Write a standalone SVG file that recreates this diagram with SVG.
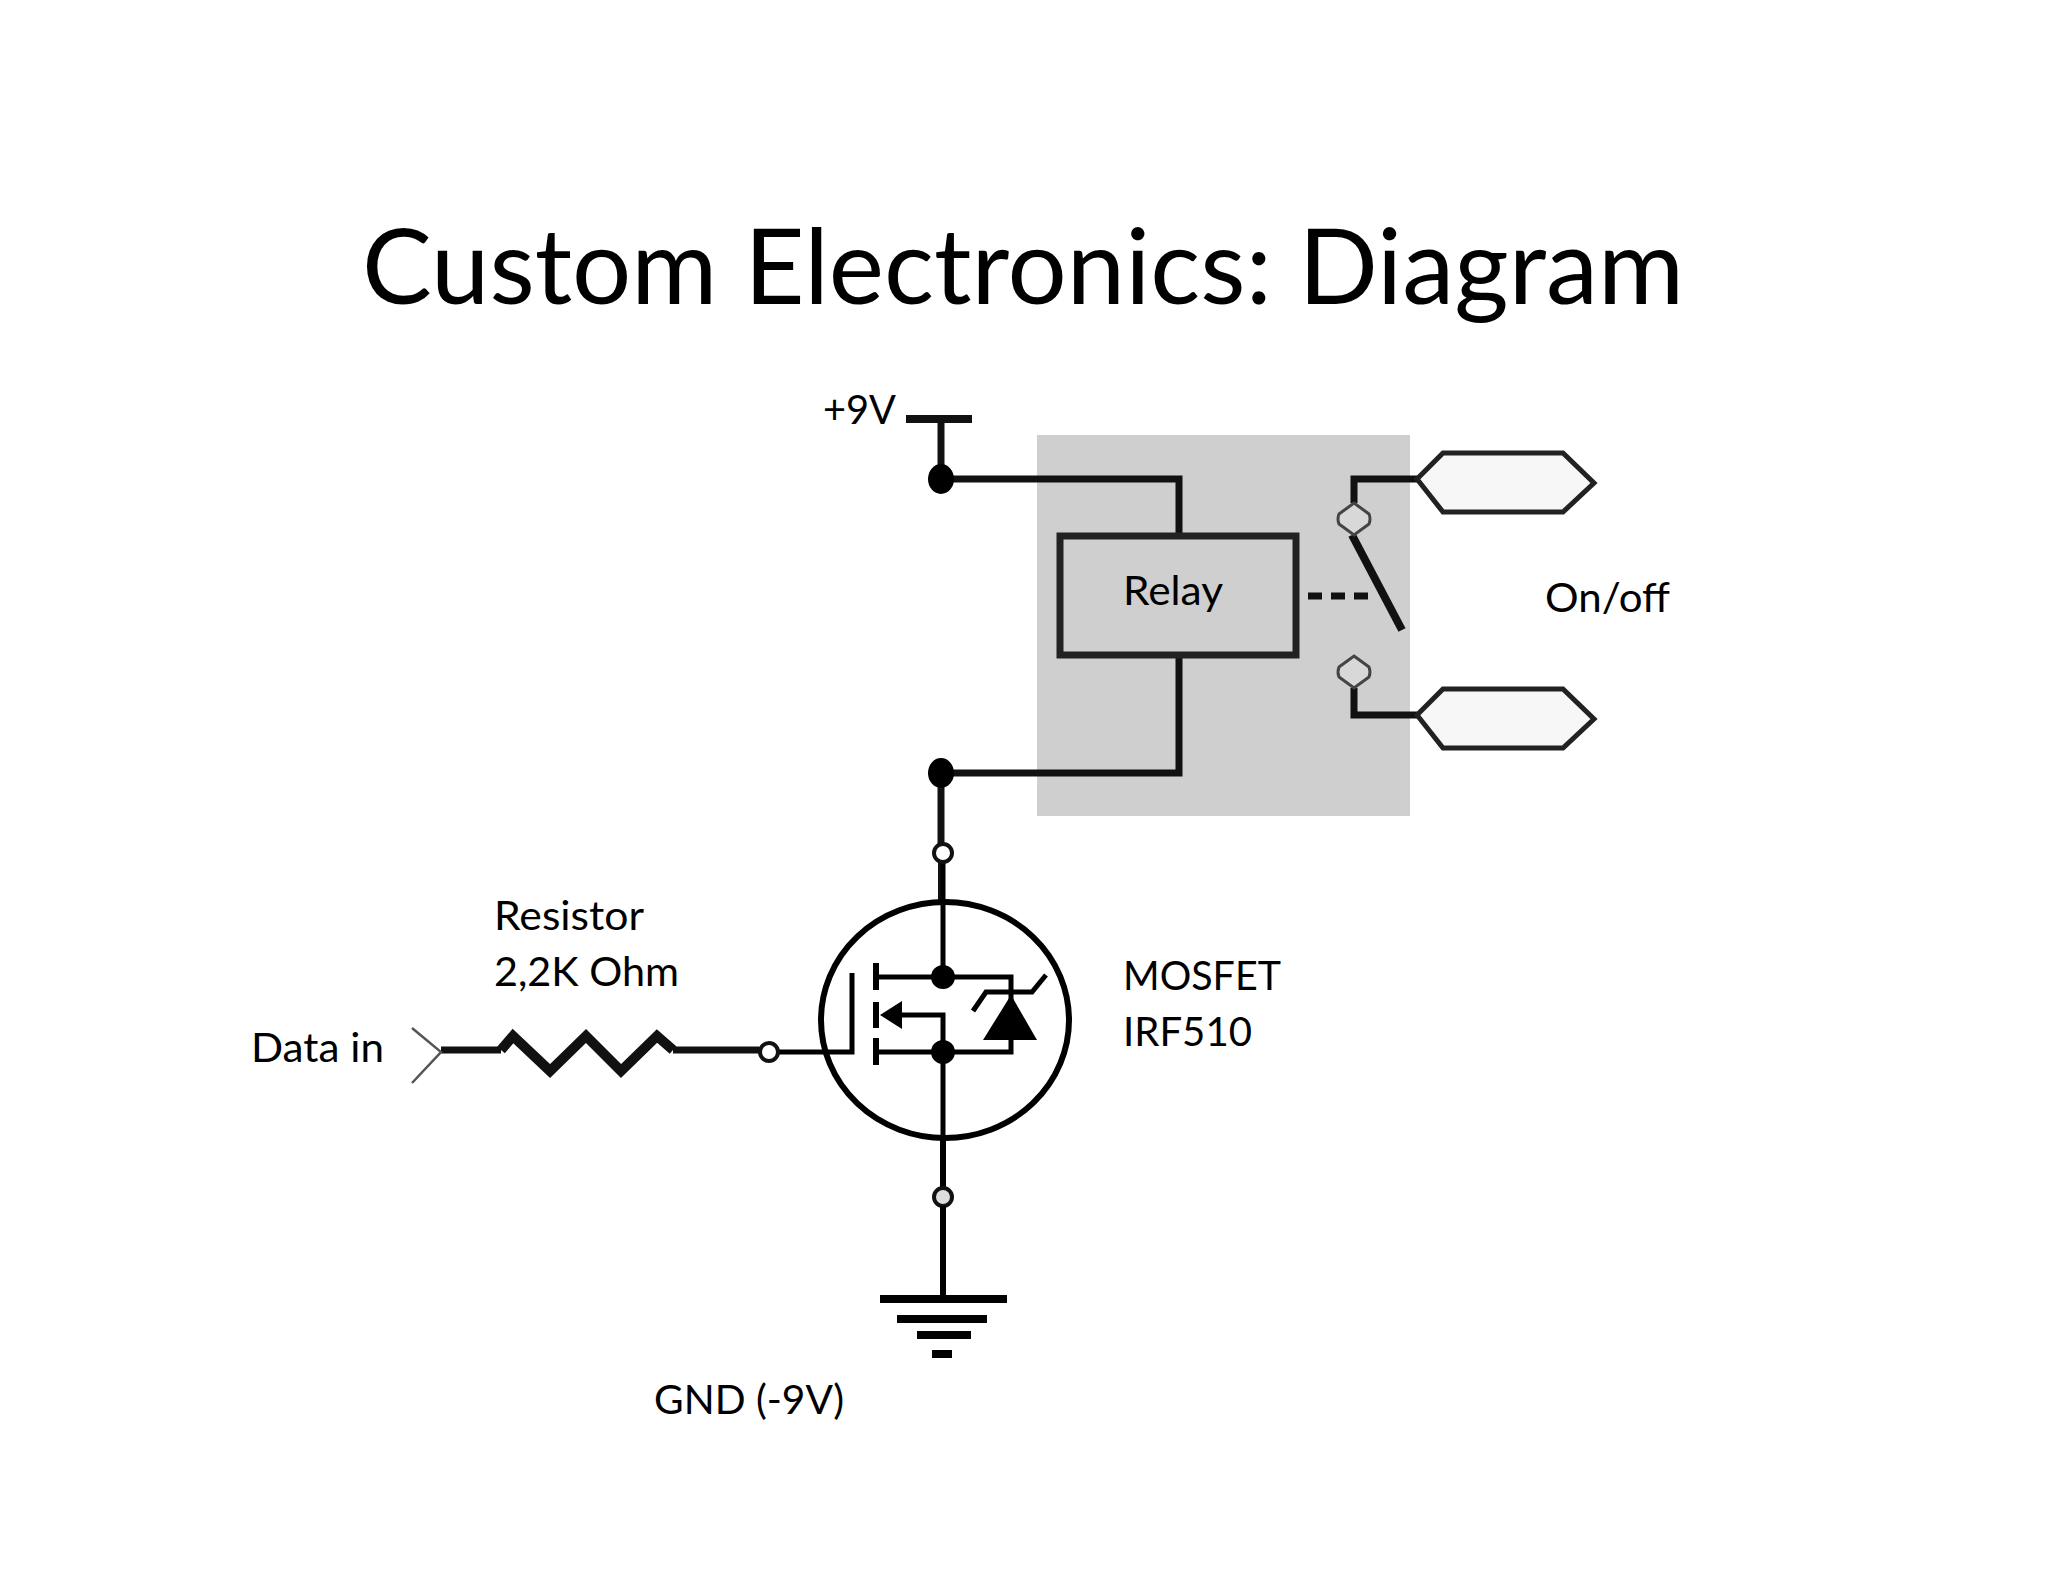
<svg xmlns="http://www.w3.org/2000/svg" width="2048" height="1582" viewBox="0 0 2048 1582">
<style>
text{font-family:"Lato","Open Sans","Liberation Sans",sans-serif;fill:#000}
.l{font-size:41px}
.t{font-size:104px}
.w{fill:none;stroke:#111;stroke-width:7;stroke-linejoin:miter}
.m{fill:none;stroke:#000;stroke-width:5}
.b{fill:#000}
.o{fill:#fff;stroke:#111;stroke-width:4}
.h{fill:#f7f7f7;stroke:#222;stroke-width:5}
.d{fill:#d8d8d8;stroke:#444;stroke-width:3}
</style>
<rect width="2048" height="1582" fill="#fff"/>
<text id="title" class="t" x="362" y="304" textLength="1322" lengthAdjust="spacingAndGlyphs">Custom Electronics: Diagram</text>
<g id="relay-body"><rect x="1037" y="435" width="373" height="381" fill="#cfcfcf"/></g>
<g id="connectors">
<path class="w" d="M941 418V479H1179V533"/>
<path class="w" d="M1179 657V773H941V845"/>
<path class="w" d="M941 860V902" style="stroke-width:6"/>
<path class="w" d="M1417 479H1354V503"/>
<path class="w" d="M1354 688V715H1417"/>
<path class="w" d="M1352 535L1402 630" style="stroke-width:8"/>
<path class="w" d="M1308 596H1371" style="stroke-dasharray:14 9"/>
<path class="w" d="M441 1050H501M673 1050H759"/>
<path class="w" d="M501 1050L513 1036L550 1071L586 1036L621 1071L657 1036L673 1050" style="stroke-width:10"/>
<path d="M412 1028L441 1052L412 1083" fill="none" stroke="#555" stroke-width="2.5"/>
<path class="m" d="M943 1140V1299" style="stroke-width:6"/>
</g>
<g id="v9"><path d="M906 419H972" stroke="#111" stroke-width="8" fill="none"/><ellipse class="b" cx="941" cy="479" rx="13" ry="15"/></g>
<g id="junction"><ellipse class="b" cx="941" cy="773" rx="13" ry="15"/></g>
<g id="relay"><rect x="1060" y="536" width="236" height="119" fill="none" stroke="#222" stroke-width="7"/><text class="l" x="1123" y="605" textLength="100" lengthAdjust="spacingAndGlyphs">Relay</text></g>
<g id="terminal-top"><path class="h" d="M1417 479L1443 453H1563L1594 483L1563 512H1443Z"/></g>
<g id="terminal-bottom"><path class="h" d="M1417 715L1443 689H1563L1594 719L1563 748H1443Z"/></g>
<g id="contact-top"><path class="d" d="M1354 503L1369 514Q1371 519 1369 524L1354 535L1339 524Q1337 519 1339 514Z"/></g>
<g id="contact-bottom"><path class="d" d="M1354 656L1369 667Q1371 672 1369 677L1354 688L1339 677Q1337 672 1339 667Z"/></g>
<g id="mosfet">
<ellipse cx="945" cy="1020" rx="124" ry="118" fill="#fff" stroke="#000" stroke-width="6"/>
<path class="m" d="M943 862V977M769 1052H852V973"/>
<path class="m" d="M876 977H1011V1052H876M943 1052V1140M902 1015H943V1052"/>
<path d="M876 963V990M876 1002V1028M876 1038V1065" stroke="#000" stroke-width="6" fill="none"/>
<path class="b" d="M880 1015L902 1001V1029Z"/>
<path class="b" d="M1011 995L1037 1040H983Z"/>
<path class="m" d="M973 1011L986 992H1032L1046 975"/>
<ellipse class="b" cx="943" cy="977" rx="12" ry="12"/>
<ellipse class="b" cx="943" cy="1052" rx="12" ry="12"/>
</g>
<g id="terminals">
<circle class="o" cx="943" cy="853" r="9"/>
<circle class="o" cx="769" cy="1052" r="9"/>
<circle class="o" cx="943" cy="1197" r="9" style="fill:#ddd"/>
<path class="m" d="M943 1206V1299" style="stroke-width:6"/>
</g>
<g id="ground"><path d="M880 1299H1007" stroke="#000" stroke-width="8"/><path d="M897 1319H987" stroke="#000" stroke-width="8"/><path d="M917 1335H971" stroke="#000" stroke-width="8"/><path d="M932 1354H952" stroke="#000" stroke-width="8"/></g>
<text id="lbl-9v" class="l" x="823" y="424" textLength="73" lengthAdjust="spacingAndGlyphs">+9V</text>
<text id="lbl-onoff" class="l" x="1545" y="612" textLength="125" lengthAdjust="spacingAndGlyphs">On/off</text>
<text id="lbl-res" class="l" x="494" y="930" textLength="150" lengthAdjust="spacingAndGlyphs">Resistor</text>
<text id="lbl-ohm" class="l" x="494" y="986" textLength="185" lengthAdjust="spacingAndGlyphs">2,2K Ohm</text>
<text id="lbl-gnd" class="l" x="654" y="1414" textLength="190" lengthAdjust="spacingAndGlyphs">GND (-9V)</text>
<text id="lbl-data" class="l" x="251" y="1062" textLength="133" lengthAdjust="spacingAndGlyphs">Data in</text>
<text id="lbl-mos" class="l" x="1123" y="990" textLength="158" lengthAdjust="spacingAndGlyphs">MOSFET</text>
<text id="lbl-irf" class="l" x="1123" y="1046" textLength="129" lengthAdjust="spacingAndGlyphs">IRF510</text>
</svg>
